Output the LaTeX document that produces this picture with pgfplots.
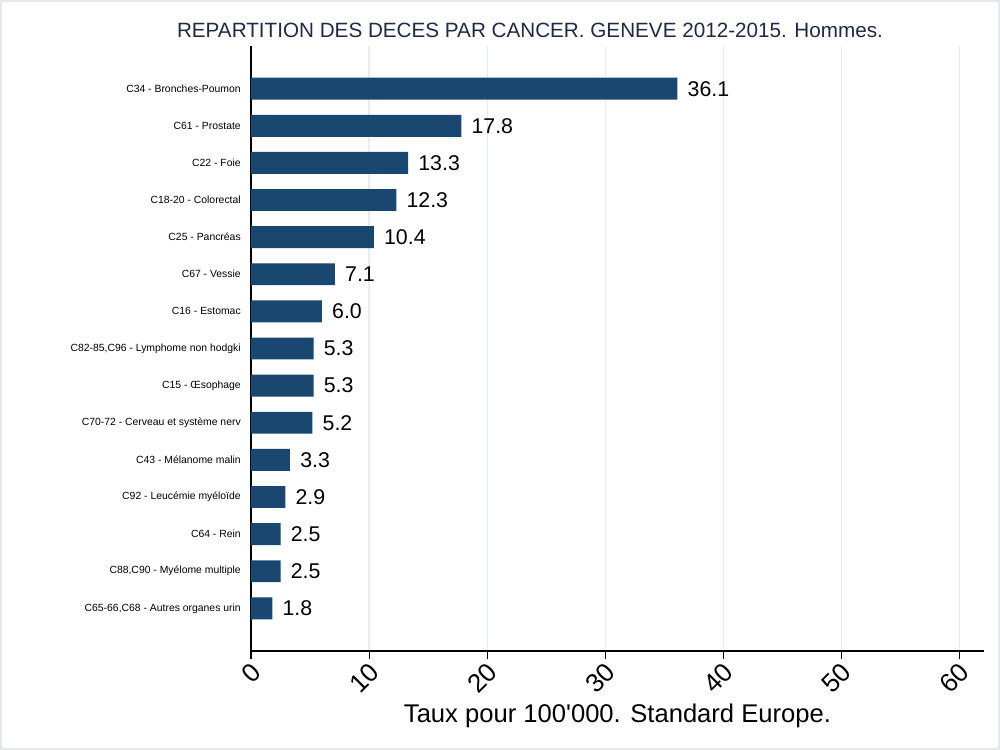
\documentclass[border=0pt]{standalone}
\usepackage{pgfplots}
\pgfplotsset{compat=1.18}
\usepackage{fontspec}
\setmainfont{Liberation Sans}
\definecolor{barblue}{HTML}{1A476F}
\definecolor{gridc}{HTML}{E6ECEF}
\definecolor{titlec}{HTML}{1E2A44}
\definecolor{framec}{HTML}{E2E8EC}
\begin{document}
\begin{tikzpicture}
% page 1000x750 px = 750pt x 562.5pt
\path[use as bounding box] (0pt,0pt) rectangle (750pt,562.5pt);
\draw[framec, line width=1pt] (0.75pt,0.75pt) rectangle (749.25pt,561.75pt);
\begin{axis}[
  at={(188.25pt,74.25pt)}, anchor=south west,
  scale only axis,
  width=549.75pt, height=453.75pt,
  xbar, bar width=0.59,
  xmin=0, xmax=62.05,
  ymin=-1.15, ymax=15.15,
  y dir=reverse,
  axis x line*=bottom, axis y line*=left,
  axis line style={black, line width=0.8pt},
  xtick={0,10,...,60},
  xmajorgrids, major grid style={gridc, line width=1pt},
  x tick style={black, line width=0.8pt},
  major tick length=6pt,
  tick align=outside,
  xticklabel style={font=\fontsize{19.5}{21}\selectfont, rotate=45, anchor=east, inner sep=1pt, xshift=-1pt, yshift=-7.5pt},
  /pgf/number format/assume math mode=true,
  ytick={0,...,14},
  y tick style={draw=none},
  yticklabel style={font=\fontsize{7.8}{8.5}\selectfont, anchor=east, inner sep=0pt, xshift=-1.5pt},
  yticklabels={
    C34 - Bronches-Poumon,
    C61 - Prostate,
    C22 - Foie,
    C18-20 - Colorectal,
    C25 - Pancréas,
    C67 - Vessie,
    C16 - Estomac,
    {C82-85,C96 - Lymphome non hodgki},
    C15 - Œsophage,
    C70-72 - Cerveau et système nerv,
    C43 - Mélanome malin,
    C92 - Leucémie myéloïde,
    C64 - Rein,
    {C88,C90 - Myélome multiple},
    {C65-66,C68 - Autres organes urin}},
  xlabel={Taux pour 100\textquotesingle 000. Standard Europe.},
  xlabel style={font=\fontsize{19.2}{21}\selectfont, at={(axis description cs:0.5,0)}, anchor=center, yshift=-48.75pt},
  nodes near coords,
  nodes near coords style={font=\fontsize{16}{18}\selectfont, anchor=west, inner sep=0pt, xshift=7.5pt,
    /pgf/number format/.cd, fixed, fixed zerofill, precision=1},
]
\addplot[fill=barblue, draw=none] coordinates {
  (36.1,0) (17.8,1) (13.3,2) (12.3,3) (10.4,4) (7.1,5) (6.0,6) (5.3,7)
  (5.3,8) (5.2,9) (3.3,10) (2.9,11) (2.5,12) (2.5,13) (1.8,14)
};
\end{axis}
\node[titlec, font=\fontsize{15.5}{17}\selectfont] at (397.5pt,540pt) {REPARTITION DES DECES PAR CANCER. GENEVE 2012-2015. Hommes.};
\end{tikzpicture}
\end{document}
